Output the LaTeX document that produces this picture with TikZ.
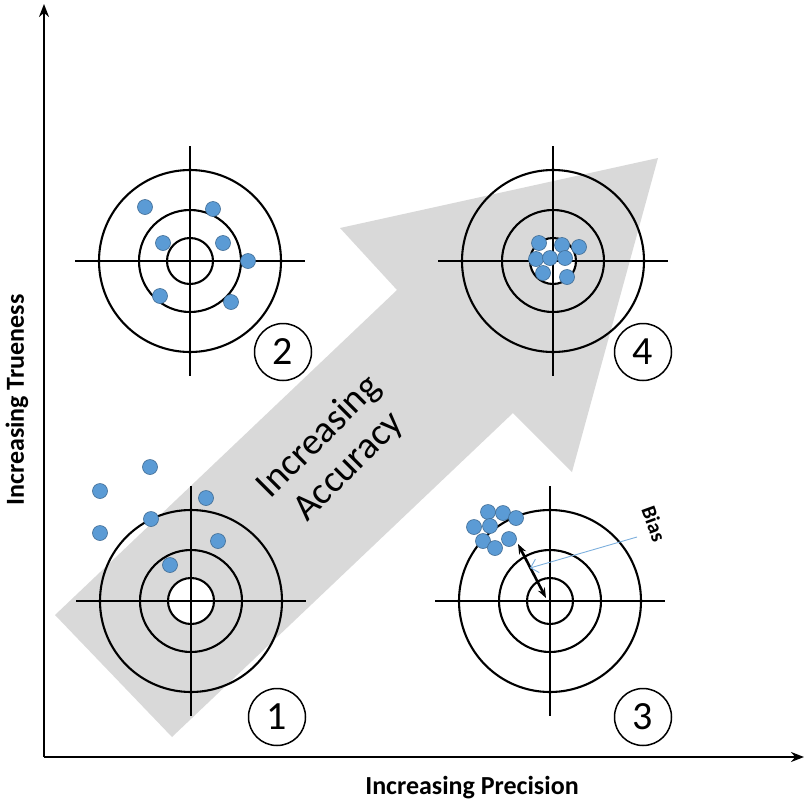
\documentclass[tikz,border=0pt]{standalone}
\usepackage{fontspec}
\setmainfont{Carlito}
\usetikzlibrary{arrows.meta}
\begin{document}
\begin{tikzpicture}[x=1pt,y=-1pt,
 ring/.style={draw=black,line width=2.1pt},
 cross/.style={draw=black,line width=1.1pt},
 dot/.style={circle,line width=0.6pt,inner sep=0pt,minimum size=15pt},
 num/.style={circle,draw=black,line width=1.5pt,fill=white,minimum size=57pt,inner sep=0pt,font=\fontsize{40}{40}\selectfont},
 ax/.style={line width=2.2pt,-{Stealth[length=13pt,width=10pt]}}]
\useasboundingbox (0,0) rectangle (806,809);
\definecolor{dotc}{RGB}{91,155,213}
\tikzset{dot/.append style={fill=dotc,draw=dotc!70!black}}
% big arrow
\fill[gray!30] (55,615) -- (397,290) -- (340,228) -- (658,158) -- (572,472) -- (513,413) -- (172,737) -- cycle;
\node[rotate=45,align=center,font=\fontsize{38}{42}\selectfont] (acc) at (334,452) {Increasing\\Accuracy};
% axes
\coordinate (o) at (44,757);
\coordinate (ytop) at (44,4);
\coordinate (xend) at (804,757);
\draw[ax] (o) -- (ytop);
\draw[ax] (o) -- (xend);
\node[rotate=90,font=\bfseries\fontsize{26}{26}\selectfont] (yl) at (17,400) {Increasing Trueness};
\node[font=\bfseries\fontsize{26}{26}\selectfont] (xl) at (472,788) {Increasing Precision};
% targets
\foreach \n/\cx/\cy in {t1/191/601,t2/190/261,t3/550/601,t4/553/261}{
 \draw[cross] (\cx-115,\cy) -- (\cx+115,\cy);
 \draw[cross] (\cx,\cy-115) -- (\cx,\cy+115);
 \draw[ring] (\cx,\cy) circle (91);
 \draw[ring] (\cx,\cy) circle (51);
 \draw[ring,fill=white] (\cx,\cy) circle (23);
 \draw[cross] (\cx-23,\cy) -- (\cx+23,\cy);
 \draw[cross] (\cx,\cy-23) -- (\cx,\cy+23);
}
\node[num] (n1) at (277,717) {1};
\node[num] (n2) at (283,352) {2};
\node[num] (n3) at (643,717) {3};
\node[num] (n4) at (643,352) {4};
% dots
\foreach \x/\y [count=\i] in {150/467,100/491,206/498,151/519,100/533,218/541,170/565}{\node[dot] (a\i) at (\x,\y) {};}
\foreach \x/\y [count=\i] in {145/207,213/209,163/243,223/243,248/261,160/296,231/302}{\node[dot] (b\i) at (\x,\y) {};}
\foreach \x/\y [count=\i] in {539/243,562/245,579/247,536/259,550/258,565/258,543/273,567/277}{\node[dot] (d\i) at (\x,\y) {};}
\foreach \x/\y [count=\i] in {488/512,503/513,516/518,474/527,490/526,483/541,495/548,509/539}{\node[dot] (c\i) at (\x,\y) {};}
% bias
\coordinate (bs) at (518,544);
\coordinate (be) at (546,598);
\draw[line width=2.6pt,{Stealth[length=10pt]}-{Stealth[length=10pt]}] (bs) -- (be);
\node[rotate=-70,font=\bfseries\fontsize{21}{21}\selectfont] (bias) at (654,524) {Bias};
\coordinate (ls) at (637,537);
\coordinate (le) at (530,568);
\draw[dotc!80!white,line width=0.9pt,-{Straight Barb[length=7pt]}] (ls) -- (le);
\end{tikzpicture}
\end{document}
